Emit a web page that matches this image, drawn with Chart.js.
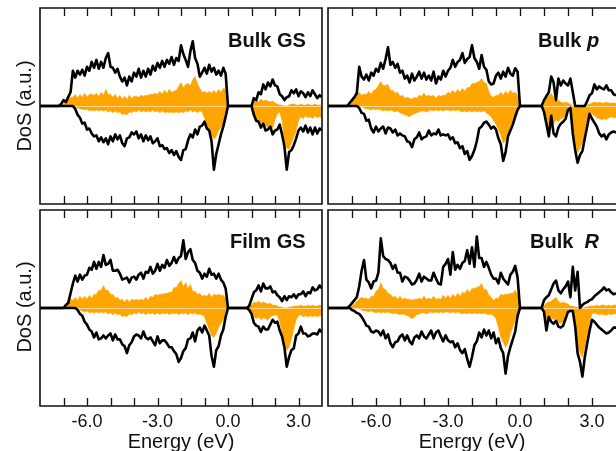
<!DOCTYPE html>
<html>
<head>
<meta charset="utf-8">
<script src="https://cdn.jsdelivr.net/npm/chart.js@4.4.1/dist/chart.umd.min.js"></script>
<style>
  html, body { margin: 0; padding: 0; background: #fff; }
  #wrap { position: relative; width: 616px; height: 451px; overflow: hidden;
          font-family: "Liberation Sans", Arial, Helvetica, sans-serif; color: #111; }
  #wrap canvas { position: absolute; }
  .txt { position: absolute; white-space: pre; }
  .title { font-size: 20px; line-height: 20px; font-weight: bold; }
  .tick { font-size: 18px; line-height: 18px; width: 60px; text-align: center; }
  .xname { font-size: 20px; line-height: 20px; width: 200px; text-align: center; }
  .yname { font-size: 20px; line-height: 20px; width: 140px; text-align: center; transform: rotate(-90deg); }
</style>
</head>
<body>
<div id="wrap">
  <canvas id="pBulkGS"></canvas>
  <canvas id="pBulkP"></canvas>
  <canvas id="pFilmGS"></canvas>
  <canvas id="pBulkR"></canvas>

  <div class="txt title" style="left:228px; top:30px;">Bulk GS</div>
  <div class="txt title" style="left:538px; top:30px;">Bulk <i>p</i></div>
  <div class="txt title" style="left:230px; top:231px;">Film GS</div>
  <div class="txt title" style="left:530px; top:231px;">Bulk  <i>R</i></div>

  <div class="txt yname" style="left:-46px; top:96px;">DoS (a.u.)</div>
  <div class="txt yname" style="left:-46px; top:297px;">DoS (a.u.)</div>
</div>

<script>
// Energy grid (eV)
const energy = [
  -8.0,-7.9,-7.8,-7.7,-7.6,-7.5,-7.4,-7.3,-7.2,-7.1,
  -7.0,-6.9,-6.8,-6.7,-6.6,-6.5,-6.4,-6.3,-6.2,-6.1,
  -6.0,-5.9,-5.8,-5.7,-5.6,-5.5,-5.4,-5.3,-5.2,-5.1,
  -5.0,-4.9,-4.8,-4.7,-4.6,-4.5,-4.4,-4.3,-4.2,-4.1,
  -4.0,-3.9,-3.8,-3.7,-3.6,-3.5,-3.4,-3.3,-3.2,-3.1,
  -3.0,-2.9,-2.8,-2.7,-2.6,-2.5,-2.4,-2.3,-2.2,-2.1,
  -2.0,-1.9,-1.8,-1.7,-1.6,-1.5,-1.4,-1.3,-1.2,-1.1,
  -1.0,-0.9,-0.8,-0.7,-0.6,-0.5,-0.4,-0.3,-0.2,-0.1,
   0.0, 0.1, 0.2, 0.3, 0.4, 0.5, 0.6, 0.7, 0.8, 0.9,
   1.0, 1.1, 1.2, 1.3, 1.4, 1.5, 1.6, 1.7, 1.8, 1.9,
   2.0, 2.1, 2.2, 2.3, 2.4, 2.5, 2.6, 2.7, 2.8, 2.9,
   3.0, 3.1, 3.2, 3.3, 3.4, 3.5, 3.6, 3.7, 3.8, 3.9,
   4.0
];

// Axis ticks
const xTicks = [-7, -6, -5, -4, -3, -2, -1, 0, 1, 2, 3];
const xTickLabels = [[-6, "-6.0"], [-3, "-3.0"], [0, "0.0"], [3, "3.0"]];
const xAxisName = "Energy (eV)";

// ---- Bulk GS ----
const bulkGsTotUp = [
  0,0,0,0,0,0,0,0,0,0.2,
  0.6,0.4,0.9,1.4,3.6,2.9,3.6,3.2,3.7,3.1,
  4.0,3.6,4.5,3.9,4.7,3.8,4.5,3.9,4.9,5.4,
  4.0,3.9,3.4,3.8,3.0,2.5,2.9,2.1,3.0,2.5,
  3.4,3.0,3.8,2.9,3.6,3.0,3.8,3.2,4.1,3.6,
  4.4,3.9,4.6,4.0,4.7,4.3,5.0,4.2,4.9,4.6,
  6.2,5.3,4.7,4.0,5.6,6.6,4.9,4.3,3.0,3.4,
  3.9,3.3,4.2,3.5,3.9,3.2,3.6,3.1,3.9,3.3,
  0,0,0,0,0,0,0,0,0,0,
  0,0.8,0.6,1.4,1.2,2.2,1.7,2.4,2.0,2.7,
  2.1,2.0,1.2,1.0,0.6,0.9,1.0,1.6,1.3,1.7,
  1.0,1.5,1.3,0.9,1.4,1.0,1.6,1.2,0.8,1.1,
  0.9
];
const bulkGsTotDn = [
  0,0,0,0,0,0,0,0,0,0,
  0,0,0,0,0,-0.3,-0.9,-1.2,-1.8,-1.7,
  -2.4,-2.3,-2.8,-3.1,-3.0,-3.6,-3.2,-3.7,-3.3,-3.9,
  -3.1,-3.6,-2.9,-3.4,-3.0,-3.8,-4.1,-3.3,-3.2,-2.7,
  -2.9,-2.6,-3.3,-2.9,-3.6,-3.0,-3.5,-3.1,-3.8,-3.6,
  -3.3,-4.1,-4.0,-4.4,-4.3,-4.8,-4.5,-5.0,-4.6,-5.2,
  -5.5,-4.5,-4.4,-3.5,-2.9,-3.2,-2.4,-2.9,-2.1,-2.0,
  -1.6,-2.3,-2.5,-3.6,-6.5,-4.9,-3.9,-2.9,-2.1,-1.1,
  0,0,0,0,0,0,0,0,0,0,
  0,-0.9,-1.5,-1.6,-2.2,-1.8,-2.5,-2.4,-2.1,-2.9,
  -2.5,-2.4,-1.9,-2.9,-4.1,-6.5,-4.7,-4.5,-4.0,-3.3,
  -2.5,-2.2,-2.6,-2.0,-2.7,-2.2,-2.9,-2.2,-2.8,-2.3,
  -2.5
];
const bulkGsPdUp = [
  0,0,0,0,0,0,0,0,0,0,
  0.2,0.4,0.6,0.9,0.9,1.2,0.8,1.2,0.9,1.3,
  0.9,1.2,1.2,1.1,1.3,1.0,1.4,1.1,1.7,1.2,
  1.2,0.9,1.2,0.8,1.1,0.7,1.0,0.7,1.1,0.8,
  1.0,1.0,0.9,1.1,1.0,1.1,1.1,1.2,1.2,1.3,
  1.2,1.5,1.2,1.6,1.3,1.7,1.4,1.5,1.6,2.0,
  2.4,1.9,2.2,2.3,2.1,2.7,3.0,2.3,1.8,1.4,
  1.5,1.3,1.5,1.3,1.6,1.3,1.7,1.4,1.8,1.7,
  0,0,0,0,0,0,0,0,0,0,
  0,0.4,0.6,0.4,0.7,0.5,0.6,0.5,0.4,0.5,
  0.3,0.2,0.1,0.1,0,0,0.1,0.2,0.2,0.1,
  0.1,0.2,0.1,0.1,0.2,0.1,0.1,0.2,0.1,0.1,
  0.1
];
const bulkGsPdDn = [
  0,0,0,0,0,0,0,0,0,0,
  0,0,0,0,0,-0.1,-0.2,-0.3,-0.3,-0.4,
  -0.3,-0.5,-0.4,-0.5,-0.4,-0.5,-0.4,-0.5,-0.4,-0.6,
  -0.5,-0.7,-0.5,-0.7,-0.6,-0.9,-0.8,-0.9,-0.6,-0.7,
  -0.5,-0.6,-0.4,-0.6,-0.5,-0.6,-0.5,-0.6,-0.4,-0.6,
  -0.5,-0.7,-0.5,-0.7,-0.6,-0.7,-0.6,-0.7,-0.6,-0.7,
  -0.6,-0.7,-0.5,-0.6,-0.4,-0.6,-0.5,-0.7,-0.5,-0.6,
  -1.2,-2.1,-2.4,-2.9,-3.4,-3.1,-2.5,-2.2,-1.9,-1.0,
  0,0,0,0,0,0,0,0,0,0,
  0,-0.8,-1.3,-1.5,-1.8,-1.6,-2.0,-2.2,-1.9,-2.3,
  -1.4,-0.8,-0.6,-1.5,-3.6,-4.3,-4.4,-3.8,-3.2,-2.5,
  -1.5,-1.1,-1.3,-1.0,-1.2,-1.1,-1.3,-1.0,-1.2,-1.1,
  -1.2
];

// ---- Bulk p ----
const bulkPTotUp = [
  0,0,0,0,0,0,0,0,0,0.3,
  0.6,0.9,1.3,4.0,3.0,2.7,3.2,2.6,3.4,3.1,
  3.8,3.5,4.4,3.8,4.8,6.0,4.2,4.5,3.9,4.3,
  3.4,3.6,2.8,3.1,2.4,3.3,2.6,3.0,3.5,2.8,
  3.4,2.7,3.1,2.6,3.5,2.3,3.0,2.7,3.6,3.0,
  3.6,3.9,4.7,4.0,4.5,4.7,5.4,4.4,4.8,5.0,
  6.2,4.9,4.5,3.8,5.2,4.0,3.7,2.5,2.2,2.3,
  3.1,3.4,2.8,3.5,3.0,3.9,3.3,3.1,3.85,3.5,
  0,0,0,0,0,0,0,0,0,0,
  0.6,1.0,1.4,3.0,2.4,0.6,2.8,2.1,2.6,2.3,
  2.1,2.8,1.4,0,0,0,0,0,0.5,1.1,
  1.3,2.2,1.7,2.0,1.8,1.7,2.1,1.6,1.6,1.2,
  1.1
];
const bulkPTotDn = [
  0,0,0,0,0,0,0,0,0,0,
  0,0,0,-0.2,-0.7,-0.8,-1.5,-1.4,-2.3,-2.7,
  -2.1,-2.6,-2.3,-2.1,-2.8,-2.2,-2.3,-2.7,-2.4,-3.0,
  -2.8,-3.0,-3.1,-3.6,-3.7,-4.2,-3.4,-3.2,-2.7,-3.4,
  -3.2,-3.1,-2.5,-3.0,-2.8,-2.9,-2.4,-3.0,-2.9,-3.0,
  -2.9,-3.4,-3.2,-3.8,-3.7,-4.3,-4.1,-4.9,-4.6,-5.5,
  -5.1,-4.5,-3.6,-2.3,-2.1,-1.7,-1.6,-1.9,-2.3,-2.1,
  -2.4,-3.3,-3.9,-5.6,-4.7,-3.1,-2.5,-1.9,-1.1,-0.4,
  0,0,0,0,0,0,0,0,0,0,
  -0.6,-1.8,-3.1,-1.0,-2.8,-3.1,-2.2,-1.8,-1.6,-1.3,
  -0.4,-0.2,-2.8,-4.5,-5.8,-5.0,-4.6,-3.3,-2.1,-0.8,
  -1.3,-1.7,-2.1,-2.8,-3.1,-2.9,-3.4,-2.9,-2.7,-2.6,
  -2.7
];
const bulkPPdUp = [
  0,0,0,0,0,0,0,0,0,0,
  0.3,0.9,1.1,1.4,1.1,1.2,1.2,1.5,1.2,1.6,
  1.7,2.1,2.5,2.1,2.1,2.2,1.6,1.6,1.3,1.4,
  1.0,1.1,0.8,0.9,0.8,0.7,0.9,0.8,1.1,1.0,
  1.3,1.0,1.1,1.0,1.1,0.8,1.1,1.0,1.1,1.1,
  1.4,1.3,1.6,1.3,1.7,1.4,1.8,1.5,1.9,1.9,
  2.3,2.3,2.4,2.5,2.8,2.4,2.3,1.5,1.0,0.9,
  1.1,1.1,1.4,1.1,1.5,1.2,1.6,1.3,1.4,1.1,
  0,0,0,0,0,0,0,0,0,0,
  0.3,0.8,1.0,1.3,0.9,0.4,0.6,0.4,0.3,0.4,
  0.3,0.2,0,0,0,0,0,0,0.1,0.2,
  0.3,0.4,0.3,0.4,0.3,0.3,0.4,0.3,0.3,0.3,
  0.3
];
const bulkPPdDn = [
  0,0,0,0,0,0,0,0,0,0,
  0,0,0,0,-0.1,-0.2,-0.3,-0.3,-0.4,-0.3,
  -0.4,-0.3,-0.4,-0.5,-0.4,-0.5,-0.4,-0.5,-0.6,-0.5,
  -0.7,-0.8,-0.9,-1.0,-1.1,-0.9,-0.8,-0.7,-0.6,-0.5,
  -0.5,-0.6,-0.5,-0.4,-0.5,-0.4,-0.5,-0.4,-0.5,-0.4,
  -0.4,-0.5,-0.4,-0.5,-0.4,-0.5,-0.6,-0.5,-0.6,-0.5,
  -0.6,-0.5,-0.6,-0.5,-0.6,-0.5,-0.7,-0.9,-1.1,-1.5,
  -1.9,-2.4,-3.0,-3.8,-3.5,-2.8,-2.1,-1.6,-1.1,-0.4,
  0,0,0,0,0,0,0,0,0,0,
  -0.4,-1.2,-2.5,-0.9,-1.8,-1.4,-1.6,-1.3,-1.2,-1.0,
  -0.3,-0.1,-2.6,-3.6,-4.8,-4.3,-3.7,-2.8,-1.6,-0.6,
  -0.8,-1.0,-1.2,-1.3,-1.4,-1.3,-1.4,-1.2,-1.1,-1.2,
  -1.2
];

// ---- Film GS ----
const filmGsTotUp = [
  0,0,0,0,0,0,0,0,0,0,
  0,0.3,0.5,1.5,2.5,3.3,2.7,3.4,2.9,3.3,
  3.4,4.1,3.9,4.7,4.0,4.7,4.2,5.4,4.4,4.5,
  4.9,3.8,3.8,3.9,3.5,2.9,3.0,3.1,2.6,3.1,
  3.2,2.9,3.4,3.6,3.0,3.7,3.6,4.2,3.5,3.8,
  4.5,3.8,4.4,4.1,4.9,4.3,4.6,5.2,4.6,5.1,
  5.3,6.9,5.0,5.7,6.0,4.9,4.6,3.8,3.6,3.0,
  3.5,3.2,4.0,3.4,3.5,3.0,3.5,2.9,2.6,2.0,
  0,0,0,0,0,0,0,0,0,0.2,
  0.9,1.6,1.8,2.3,1.7,2.5,2.0,2.0,2.2,1.6,
  1.7,1.3,1.1,0.7,1.2,0.8,1.2,1.1,1.4,1.0,
  1.4,1.4,1.7,1.2,1.6,1.5,2.1,1.8,1.9,2.3,
  2.0
];
const filmGsTotDn = [
  0,0,0,0,0,0,0,0,0,0,
  0,0,0,0,0,0,-0.2,-0.6,-0.8,-1.4,
  -1.7,-2.2,-2.4,-3.0,-2.5,-3.2,-3.1,-2.8,-3.1,-2.8,
  -2.6,-3.3,-2.7,-3.2,-3.2,-3.7,-3.9,-4.6,-3.8,-3.5,
  -2.9,-2.7,-2.8,-3.1,-2.4,-3.0,-3.2,-3.0,-3.4,-3.8,
  -2.9,-3.6,-3.3,-3.3,-3.6,-4.0,-4.0,-4.4,-4.7,-5.5,
  -5.1,-4.4,-4.1,-3.2,-3.1,-2.5,-3.4,-2.3,-2.0,-2.5,
  -1.8,-2.3,-2.8,-4.9,-6.0,-4.3,-3.9,-2.8,-2.2,-0.9,
  0,0,0,0,0,0,0,0,0,-0.2,
  -0.6,-1.5,-1.8,-1.9,-2.45,-1.9,-2.2,-2.2,-1.7,-1.2,
  -1.5,-1.4,-2.3,-2.9,-4.0,-6.0,-5.0,-4.3,-4.1,-2.8,
  -2.6,-1.9,-2.6,-2.6,-2.9,-2.8,-2.6,-2.6,-2.7,-2.2,
  -2.5
];
const filmGsPdUp = [
  0,0,0,0,0,0,0,0,0,0,
  0,0.2,0.5,0.9,0.8,1.1,0.8,1.2,0.9,1.2,
  0.9,1.3,1.0,1.4,1.4,1.8,1.8,2.3,1.8,1.8,
  1.4,1.4,1.0,1.1,0.8,0.9,0.6,0.9,0.6,0.9,
  0.8,0.9,0.8,0.9,0.8,1.1,0.8,1.2,1.1,1.4,
  1.3,1.4,1.4,1.5,1.5,1.6,1.6,2.1,2.1,2.5,
  2.8,2.2,2.6,2.0,2.4,1.7,1.7,1.4,1.5,1.2,
  1.3,1.2,1.5,1.1,1.4,1.3,1.4,1.3,1.3,1.0,
  0,0,0,0,0,0,0,0,0,0,
  0.3,0.6,0.5,0.7,0.5,0.6,0.5,0.4,0.5,0.3,
  0.3,0.2,0.1,0.1,0,0,0.1,0.1,0.2,0.2,
  0.2,0.3,0.2,0.2,0.3,0.2,0.3,0.2,0.2,0.3,
  0.2
];
const filmGsPdDn = [
  0,0,0,0,0,0,0,0,0,0,
  0,0,0,0,0,0,-0.1,-0.2,-0.3,-0.4,
  -0.3,-0.5,-0.4,-0.5,-0.4,-0.5,-0.4,-0.5,-0.4,-0.6,
  -0.5,-0.7,-0.5,-0.7,-0.6,-0.9,-0.8,-0.9,-0.6,-0.7,
  -0.5,-0.6,-0.4,-0.6,-0.5,-0.7,-0.5,-0.6,-0.5,-0.7,
  -0.5,-0.7,-0.5,-0.6,-0.5,-0.7,-0.5,-0.6,-0.5,-0.7,
  -0.5,-0.6,-0.5,-0.7,-0.5,-0.6,-0.5,-0.7,-0.6,-0.7,
  -0.9,-1.6,-2.2,-2.8,-3.0,-2.6,-2.0,-1.6,-1.2,-0.7,
  0,0,0,0,0,0,0,0,0,0,
  -0.4,-0.9,-1.1,-0.9,-1.2,-1.0,-1.1,-1.25,-0.9,-0.8,
  -0.7,-0.8,-1.4,-2.6,-3.6,-4.3,-4.0,-3.2,-2.2,-1.2,
  -0.8,-0.7,-0.9,-0.8,-0.9,-0.8,-0.9,-0.8,-0.9,-0.8,
  -0.8
];

// ---- Bulk R ----
const bulkRTotUp = [
  0,0,0,0,0,0,0,0,0,0.2,
  0.5,0.8,1.1,2.2,3.8,4.9,2.9,2.6,2.0,2.7,
  2.8,3.6,7.1,5.3,5.0,4.9,4.6,4.0,4.4,3.6,
  3.6,2.7,3.2,3.1,2.8,2.4,2.5,2.9,3.5,2.7,
  3.2,3.0,2.8,2.8,3.6,3.0,2.5,2.4,4.2,4.5,
  5.0,3.4,5.7,3.9,4.4,4.0,4.6,4.8,5.9,4.5,
  6.2,4.2,7.3,5.1,5.1,4.2,4.7,4.1,3.4,3.0,
  3.0,2.5,3.6,3.0,2.7,2.4,3.4,3.7,4.3,3.1,
  0,0,0,0,0,0,0,0,0,0,
  0.8,1.1,1.3,1.9,2.5,2.8,1.8,1.5,1.9,2.2,
  2.7,1.1,4.2,1.8,3.7,0,0.3,0.5,0.6,0.8,
  0.9,1.2,1.4,1.6,1.8,2.1,1.8,1.9,1.6,1.4,
  1.5
];
const bulkRTotDn = [
  0,0,0,0,0,0,0,0,0,0,
  -0.2,-0.3,-0.5,-0.6,-0.9,-1.3,-1.8,-1.9,-2.4,-2.5,
  -2.3,-2.4,-2.8,-2.3,-3.1,-2.7,-3.6,-4.0,-3.5,-3.4,
  -2.9,-2.7,-3.3,-2.8,-3.4,-3.7,-3.0,-2.8,-3.1,-2.4,
  -2.9,-3.1,-2.7,-2.3,-3.1,-2.5,-2.3,-2.9,-3.4,-2.8,
  -3.3,-3.5,-3.4,-4.0,-3.6,-4.3,-4.6,-4.2,-5.2,-6.0,
  -5.0,-3.8,-3.4,-2.5,-3.0,-2.2,-2.8,-2.3,-3.1,-2.5,
  -3.6,-3.1,-4.1,-4.6,-6.7,-4.9,-4.0,-3.2,-2.4,-0.8,
  0,0,0,0,0,0,0,0,0,0,
  -0.4,-2.3,-0.9,-1.4,-1.6,-1.3,-1.9,-2.0,-1.8,-1.1,
  -0.4,-0.3,-0.3,-1.9,-4.6,-5.5,-7.0,-5.0,-3.6,-2.3,
  -1.2,-1.4,-1.7,-2.0,-2.2,-2.4,-2.6,-2.5,-2.3,-2.0,
  -2.0
];
const bulkRPdUp = [
  0,0,0,0,0,0,0,0,0,0,
  0.2,0.4,0.7,0.9,1.1,1.0,1.0,0.9,1.2,1.2,
  1.7,1.9,2.6,2.0,1.9,1.5,1.4,1.1,1.2,0.9,
  1.2,0.9,1.0,0.9,0.9,0.8,0.9,0.9,1.0,0.9,
  1.2,0.9,1.0,0.9,1.2,0.9,1.0,0.9,1.3,1.0,
  1.3,1.0,1.4,1.1,1.5,1.2,1.6,1.5,1.9,1.6,
  2.0,2.0,2.1,2.2,2.5,1.9,1.9,1.3,1.1,0.8,
  1.0,1.0,1.4,1.3,1.4,1.4,1.5,1.5,1.8,1.4,
  0,0,0,0,0,0,0,0,0,0,
  0.2,0.5,0.6,0.7,0.9,1.1,0.7,0.5,0.6,0.5,
  0.4,0.2,0.2,0.1,0.1,0,0,0.1,0.1,0.2,
  0.2,0.2,0.3,0.2,0.3,0.3,0.2,0.3,0.2,0.3,
  0.3
];
const bulkRPdDn = [
  0,0,0,0,0,0,0,0,0,0,
  0,0,0,-0.1,-0.2,-0.3,-0.3,-0.4,-0.3,-0.4,
  -0.5,-0.4,-0.5,-0.4,-0.5,-0.4,-0.5,-0.6,-0.5,-0.6,
  -0.7,-0.6,-0.7,-0.8,-0.9,-1.1,-0.9,-0.7,-0.6,-0.5,
  -0.5,-0.6,-0.5,-0.4,-0.5,-0.4,-0.5,-0.4,-0.5,-0.4,
  -0.4,-0.5,-0.4,-0.5,-0.4,-0.5,-0.6,-0.5,-0.6,-0.5,
  -0.6,-0.5,-0.6,-0.5,-0.6,-0.5,-0.6,-0.7,-0.6,-0.8,
  -1.1,-2.0,-3.0,-3.5,-4.0,-3.6,-2.6,-2.0,-1.3,-0.6,
  0,0,0,0,0,0,0,0,0,0,
  -0.3,-1.6,-0.7,-1.0,-1.2,-1.0,-1.5,-1.6,-1.4,-0.8,
  -0.3,-0.2,-0.2,-1.6,-3.8,-4.6,-5.0,-4.0,-2.8,-1.5,
  -0.6,-0.5,-0.6,-0.7,-0.6,-0.7,-0.75,-0.6,-0.7,-0.6,
  -0.6
];

const ORANGE = '#ffa500';
const SEAM = '#ffdca0';

// Light seam along the zero line where the projected DOS is filled
const seamPlugin = {
  id: 'seam',
  afterDatasetDraw(chart, args) {
    if (args.index !== 2) return;
    const up = chart.data.datasets[2].data, dn = chart.data.datasets[3].data;
    const { ctx, scales: { x, y } } = chart;
    const y0 = Math.round(y.getPixelForValue(0)) + 0.5;
    const on = i => up[i].y !== 0 || dn[i].y !== 0;
    ctx.save();
    ctx.strokeStyle = SEAM;
    ctx.lineWidth = 1;
    ctx.beginPath();
    for (let i = 0; i < up.length - 1; i++) {
      if (on(i) && on(i + 1)) {
        ctx.moveTo(x.getPixelForValue(up[i].x), y0);
        ctx.lineTo(x.getPixelForValue(up[i + 1].x), y0);
      }
    }
    ctx.stroke();
    ctx.restore();
  }
};

// Box frame with inward tick marks on top and bottom edges
const framePlugin = {
  id: 'frame',
  afterDraw(chart, args, opts) {
    const { ctx, chartArea: a, scales: { x } } = chart;
    ctx.save();
    ctx.strokeStyle = '#111';
    ctx.lineWidth = 1.6;
    ctx.beginPath();
    if (opts.openRight) {
      ctx.moveTo(a.right + 4, a.top);
      ctx.lineTo(a.left, a.top);
      ctx.lineTo(a.left, a.bottom);
      ctx.lineTo(a.right + 4, a.bottom);
    } else {
      ctx.rect(a.left, a.top, a.right - a.left, a.bottom - a.top);
    }
    ctx.stroke();
    ctx.lineWidth = 1.3;
    ctx.beginPath();
    xTicks.forEach(v => {
      const px = Math.round(x.getPixelForValue(v)) + 0.5;
      ctx.moveTo(px, a.top);
      ctx.lineTo(px, a.top + 8);
      ctx.moveTo(px, a.bottom);
      ctx.lineTo(px, a.bottom - 8);
    });
    ctx.stroke();
    ctx.restore();
  }
};

const wrap = document.getElementById('wrap');

function addText(cls, text, left, top) {
  const d = document.createElement('div');
  d.className = 'txt ' + cls;
  d.textContent = text;
  d.style.left = left + 'px';
  d.style.top = top + 'px';
  wrap.appendChild(d);
}

function buildPanel(id, box, series, withXLabels) {
  const pad = 6;
  const cv = document.getElementById(id);
  cv.width = (box.right - box.left) + 2 * pad;
  cv.height = (box.bottom - box.top) + 2 * pad;
  cv.style.left = (box.left - pad) + 'px';
  cv.style.top = (box.top - pad) + 'px';
  const pts = arr => energy.map((e, i) => ({ x: e, y: arr[i] }));
  const black = { borderColor: '#000', borderWidth: 2.6, fill: false, borderJoinStyle: 'round' };
  const orange = { borderColor: ORANGE, backgroundColor: ORANGE, borderWidth: 0.5, fill: 'origin' };
  const chart = new Chart(cv, {
    type: 'line',
    data: {
      datasets: [
        Object.assign({ data: pts(series[0]) }, black),
        Object.assign({ data: pts(series[1]) }, black),
        Object.assign({ data: pts(series[2]) }, orange),
        Object.assign({ data: pts(series[3]) }, orange)
      ]
    },
    options: {
      responsive: false,
      animation: false,
      devicePixelRatio: 1,
      layout: { padding: pad },
      elements: { point: { radius: 0 }, line: { tension: 0 } },
      scales: {
        x: { type: 'linear', min: -8, max: 4, display: false },
        y: { type: 'linear', min: -10, max: 10, display: false }
      },
      plugins: {
        legend: { display: false },
        tooltip: { enabled: false },
        frame: { openRight: box.openRight }
      }
    },
    plugins: [seamPlugin, framePlugin]
  });
  if (withXLabels) {
    const xs = chart.scales.x;
    xTickLabels.forEach(([v, t]) => {
      addText('tick', t, box.left - pad + xs.getPixelForValue(v) - 30, box.bottom + 5.5);
    });
    addText('xname', xAxisName, (box.left + box.right) / 2 - 100, box.bottom + 24.5);
  }
  return chart;
}

buildPanel('pBulkGS', { left: 40, top: 8, right: 322, bottom: 204 },
  [bulkGsTotUp, bulkGsTotDn, bulkGsPdUp, bulkGsPdDn], false);
buildPanel('pBulkP', { left: 328, top: 8, right: 616, bottom: 204, openRight: true },
  [bulkPTotUp, bulkPTotDn, bulkPPdUp, bulkPPdDn], false);
buildPanel('pFilmGS', { left: 40, top: 210, right: 322, bottom: 406 },
  [filmGsTotUp, filmGsTotDn, filmGsPdUp, filmGsPdDn], true);
buildPanel('pBulkR', { left: 328, top: 210, right: 616, bottom: 406, openRight: true },
  [bulkRTotUp, bulkRTotDn, bulkRPdUp, bulkRPdDn], true);
</script>
</body>
</html>
